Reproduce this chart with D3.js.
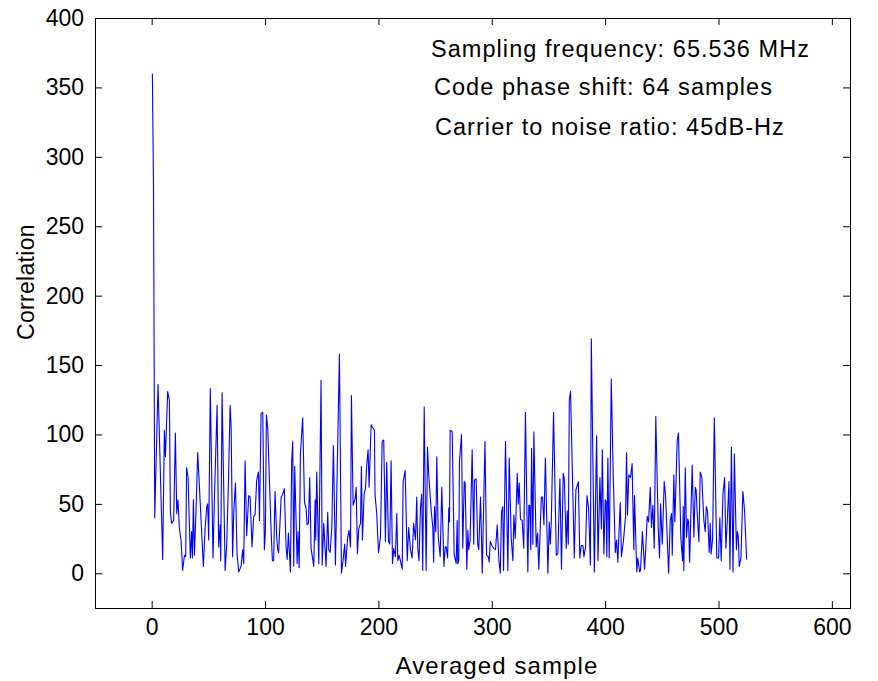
<!DOCTYPE html>
<html>
<head>
<meta charset="utf-8">
<script src="https://cdn.jsdelivr.net/npm/d3@7"></script>
<style>
    body { margin: 0; background: #fff; }
    svg text { font-family: "Liberation Sans", Arial, sans-serif; }
</style>
</head>
<body>
<svg class="corr" width="878" height="681"></svg>
<script>
// sample positions (peaks and troughs of the trace)
var sampleIdx = [
    0.6, 1.6, 2.7, 5.6, 9.7, 11.2, 12.1, 14.1, 15.6, 16.5, 17.6, 19.4, 20.9, 22.1, 23.2, 24.4, 25.9, 27.3, 28.9, 30.0,
    30.8, 32.1, 34.1, 35.2, 35.9, 36.8, 37.7, 39.1, 40.6, 45.6, 47.1, 48.6, 49.4, 50.3, 51.7, 54.1, 55.3, 57.7, 59.1, 60.4,
    60.9, 62.1, 64.8, 66.2, 67.6, 69.2, 70.1, 71.4, 72.4, 73.9, 75.3, 76.8, 78.9, 80.2, 81.2, 82.4, 83.8, 85.6, 86.8, 88.5,
    90.0, 91.2, 92.6, 94.2, 95.1, 96.5, 98.0, 99.4, 100.3, 101.2, 102.4, 105.4, 106.5, 107.6, 108.8, 110.3, 111.2, 112.0, 114.2, 115.6,
    117.0, 118.6, 119.5, 120.6, 122.4, 123.5, 124.4, 125.3, 126.2, 128.3, 129.1, 130.1, 131.2, 133.2, 134.8, 136.2, 137.1, 138.3, 139.4, 140.6,
    143.0, 144.2, 144.7, 145.6, 147.4, 149.4, 150.4, 151.8, 153.8, 155.3, 156.2, 157.4, 158.9, 160.3, 162.1, 165.6, 167.4, 168.5, 170.3, 171.0,
    172.9, 174.1, 175.4, 176.2, 177.7, 179.5, 180.4, 181.5, 182.6, 184.2, 185.0, 185.9, 187.4, 188.6, 189.7, 190.9, 191.8, 193.6, 195.0, 196.5,
    197.0, 198.5, 200.1, 201.8, 203.3, 204.7, 206.2, 207.3, 208.9, 210.0, 211.2, 212.4, 213.5, 215.0, 216.2, 217.1, 218.3, 219.4, 221.0, 221.8,
    223.6, 225.4, 226.7, 228.3, 229.7, 231.1, 232.7, 233.8, 234.7, 235.8, 237.1, 238.2, 239.1, 240.4, 242.1, 243.3, 244.4, 246.6, 248.0, 248.7,
    249.5, 250.6, 251.5, 252.8, 254.5, 255.9, 257.8, 258.9, 259.8, 261.0, 262.1, 262.7, 263.3, 265.1, 266.8, 268.6, 269.5, 270.0, 270.9, 271.5,
    273.3, 274.4, 275.7, 276.5, 278.0, 278.9, 279.7, 280.9, 282.7, 284.1, 284.7, 286.2, 287.6, 288.5, 290.1, 291.6, 294.0, 295.4, 296.9, 297.7,
    298.7, 300.1, 301.8, 303.3, 304.8, 306.3, 307.5, 308.6, 309.7, 310.4, 312.1, 314.2, 315.4, 317.1, 318.6, 319.5, 320.7, 322.5, 323.3, 324.2,
    325.3, 326.8, 328.2, 329.7, 331.8, 332.7, 333.5, 334.4, 335.1, 336.3, 337.1, 339.2, 340.4, 341.5, 343.7, 344.8, 346.0, 347.3, 349.5, 350.7,
    351.6, 352.5, 354.5, 356.9, 358.3, 360.1, 361.5, 363.0, 364.0, 365.7, 366.6, 367.5, 368.4, 369.5, 372.8, 374.2, 376.4, 377.7, 378.9, 380.4,
    381.3, 382.7, 384.0, 385.4, 387.0, 387.8, 390.5, 392.5, 393.7, 395.4, 396.7, 397.5, 398.9, 400.1, 400.8, 401.5, 402.4, 403.6, 405.4, 407.1,
    409.0, 410.1, 411.2, 413.3, 414.4, 416.2, 418.0, 418.9, 419.7, 420.9, 422.4, 423.8, 424.4, 425.3, 425.9, 427.9, 428.8, 430.4, 431.2, 432.9,
    434.8, 435.9, 437.1, 438.3, 439.8, 440.9, 442.1, 443.3, 444.7, 446.9, 448.0, 448.9, 450.4, 452.1, 453.3, 456.0, 457.4, 458.6, 459.2, 460.6,
    461.5, 463.6, 464.7, 466.8, 468.3, 468.9, 469.4, 470.7, 471.8, 472.9, 473.6, 474.5, 476.8, 478.3, 479.5, 480.3, 481.1, 482.7, 483.9, 485.3,
    487.1, 488.3, 489.2, 490.3, 491.8, 492.7, 493.5, 494.8, 496.3, 498.5, 500.1, 501.2, 502.4, 503.9, 505.4, 506.5, 507.8, 509.2, 510.1, 511.4,
    512.8, 514.0, 515.8, 516.7, 517.5, 518.3, 519.8, 521.5, 523.0, 524.8
];

var corrValues = [
    360, 280, 40, 136, 10, 103, 84, 131, 125, 44, 36, 38, 101, 43, 53, 33, 24, 2, 13, 12,
    76, 69, 11, 30, 11, 53, 13, 45, 87, 5, 32, 48, 50, 24, 133, 11, 53, 121, 19, 35,
    9, 130, 2, 21, 62, 121, 105, 12, 44, 65, 14, 1, 5, 17, 7, 81, 27, 56, 55, 19,
    41, 42, 67, 73, 38, 115, 116, 17, 30, 114, 104, 29, 9, 9, 59, 26, 17, 15, 55, 57,
    61, 18, 10, 29, 1, 81, 95, 5, 77, 7, 30, 4, 86, 112, 51, 47, 35, 36, 69, 18,
    5, 53, 24, 73, 7, 139, 6, 36, 5, 44, 17, 15, 33, 92, 6, 158, 0, 7, 21, 5,
    26, 31, 19, 128, 49, 54, 62, 14, 32, 36, 77, 24, 57, 61, 78, 89, 62, 107, 105, 103,
    57, 43, 15, 26, 95, 96, 23, 80, 23, 21, 81, 7, 18, 12, 43, 9, 13, 9, 3, 66,
    74, 9, 33, 17, 11, 36, 24, 55, 18, 9, 47, 57, 2, 120, 2, 91, 71, 45, 33, 8,
    48, 30, 84, 26, 12, 62, 5, 19, 19, 11, 47, 37, 103, 102, 14, 7, 38, 7, 9, 81,
    100, 18, 66, 65, 3, 31, 17, 24, 89, 21, 67, 68, 21, 17, 55, 0, 95, 13, 12, 8,
    23, 20, 18, 17, 35, 9, 0, 44, 48, 2, 95, 2, 83, 26, 9, 42, 25, 72, 50, 65,
    39, 38, 18, 116, 1, 49, 49, 17, 90, 21, 102, 19, 29, 3, 55, 55, 35, 83, 0, 37,
    21, 37, 116, 13, 14, 68, 3, 72, 68, 18, 45, 21, 125, 131, 11, 60, 66, 11, 20, 20,
    12, 19, 56, 47, 6, 169, 1, 99, 9, 69, 32, 89, 14, 53, 52, 12, 83, 11, 140, 72,
    15, 24, 8, 51, 12, 24, 41, 87, 42, 71, 69, 79, 53, 17, 56, 1, 11, 1, 2, 30,
    3, 19, 41, 37, 62, 33, 49, 18, 113, 31, 11, 50, 21, 66, 56, 0, 38, 43, 13, 71,
    37, 96, 101, 25, 9, 48, 2, 76, 26, 39, 37, 8, 78, 26, 62, 60, 45, 23, 73, 69,
    38, 30, 48, 45, 15, 36, 14, 25, 112, 11, 11, 40, 9, 57, 69, 18, 38, 66, 3, 91,
    1, 86, 17, 30, 26, 5, 11, 59, 45, 10
];

var xTicks = [0, 100, 200, 300, 400, 500, 600];
var yTicks = [0, 50, 100, 150, 200, 250, 300, 350, 400];

var notes = [
    "Sampling frequency: 65.536 MHz",
    "Code phase shift: 64 samples",
    "Carrier to noise ratio: 45dB-Hz"
];

draw_plot();

function draw_plot() {
    var svg = d3.select(".corr");
    var margin = {top: 18, right: 28, bottom: 73, left: 95};
    var w = svg.attr("width") - margin.left - margin.right;
    var h = svg.attr("height") - margin.top - margin.bottom;

    var data = sampleIdx.map(function(s, i) { return {s: s, v: corrValues[i]}; });

    var xScale = d3.scaleLinear().domain([-50, 616]).range([0, w]);
    var yScale = d3.scaleLinear().domain([-25, 400]).range([h, 0]);

    var g = svg.append("g")
        .attr("transform", "translate(" + margin.left + "," + margin.top + ")");

    // correlation trace
    var line = d3.line()
        .x(function(d) { return xScale(d.s); })
        .y(function(d) { return yScale(d.v); });

    g.append("path")
        .datum(data)
        .attr("d", line)
        .attr("fill", "none")
        .attr("stroke", "#0000ff")
        .attr("stroke-width", 1.1)
        .attr("stroke-linejoin", "round");

    // matlab style box with inward ticks on all four sides
    var xAxis = d3.axisBottom(xScale).tickValues(xTicks).tickSizeInner(-7).tickSizeOuter(0).tickPadding(11);
    var yAxis = d3.axisLeft(yScale).tickValues(yTicks).tickSizeInner(-7).tickSizeOuter(0).tickPadding(11);

    g.append("g").attr("class", "x axis")
        .attr("transform", "translate(0," + h + ")")
        .call(xAxis);
    g.append("g").attr("class", "y axis")
        .call(yAxis);
    g.append("g")
        .call(d3.axisTop(xScale).tickValues(xTicks).tickSizeInner(-7).tickSizeOuter(0).tickFormat(""));
    g.append("g")
        .attr("transform", "translate(" + w + ",0)")
        .call(d3.axisRight(yScale).tickValues(yTicks).tickSizeInner(-7).tickSizeOuter(0).tickFormat(""));

    g.selectAll(".domain").remove();
    g.selectAll(".tick line").attr("stroke", "#000").attr("stroke-width", 1);
    g.selectAll(".tick text")
        .style("font-size", "23px")
        .attr("fill", "#000");

    g.append("rect")
        .attr("x", 0.5).attr("y", 0.5)
        .attr("width", w).attr("height", h)
        .attr("fill", "none")
        .attr("stroke", "#000")
        .attr("stroke-width", 1);

    // axis labels
    svg.append("text")
        .attr("x", 497)
        .attr("y", 674)
        .attr("text-anchor", "middle")
        .style("font-size", "24px")
        .style("letter-spacing", "1.1px")
        .text("Averaged sample");

    svg.append("text")
        .attr("transform", "translate(34,282) rotate(-90)")
        .attr("text-anchor", "middle")
        .style("font-size", "23px")
        .style("letter-spacing", "0.3px")
        .text("Correlation");

    // annotations placed in data coordinates
    var noteX = [246.4, 249, 249.9];
    var noteY = [372, 344.5, 316];
    g.selectAll(".note").data(notes)
        .enter().append("text")
        .attr("class", "note")
        .attr("x", function(d, i) { return xScale(noteX[i]); })
        .attr("y", function(d, i) { return yScale(noteY[i]); })
        .style("font-size", "23.5px")
        .style("letter-spacing", "1.05px")
        .text(function(d) { return d; });
}
</script>
</body>
</html>
